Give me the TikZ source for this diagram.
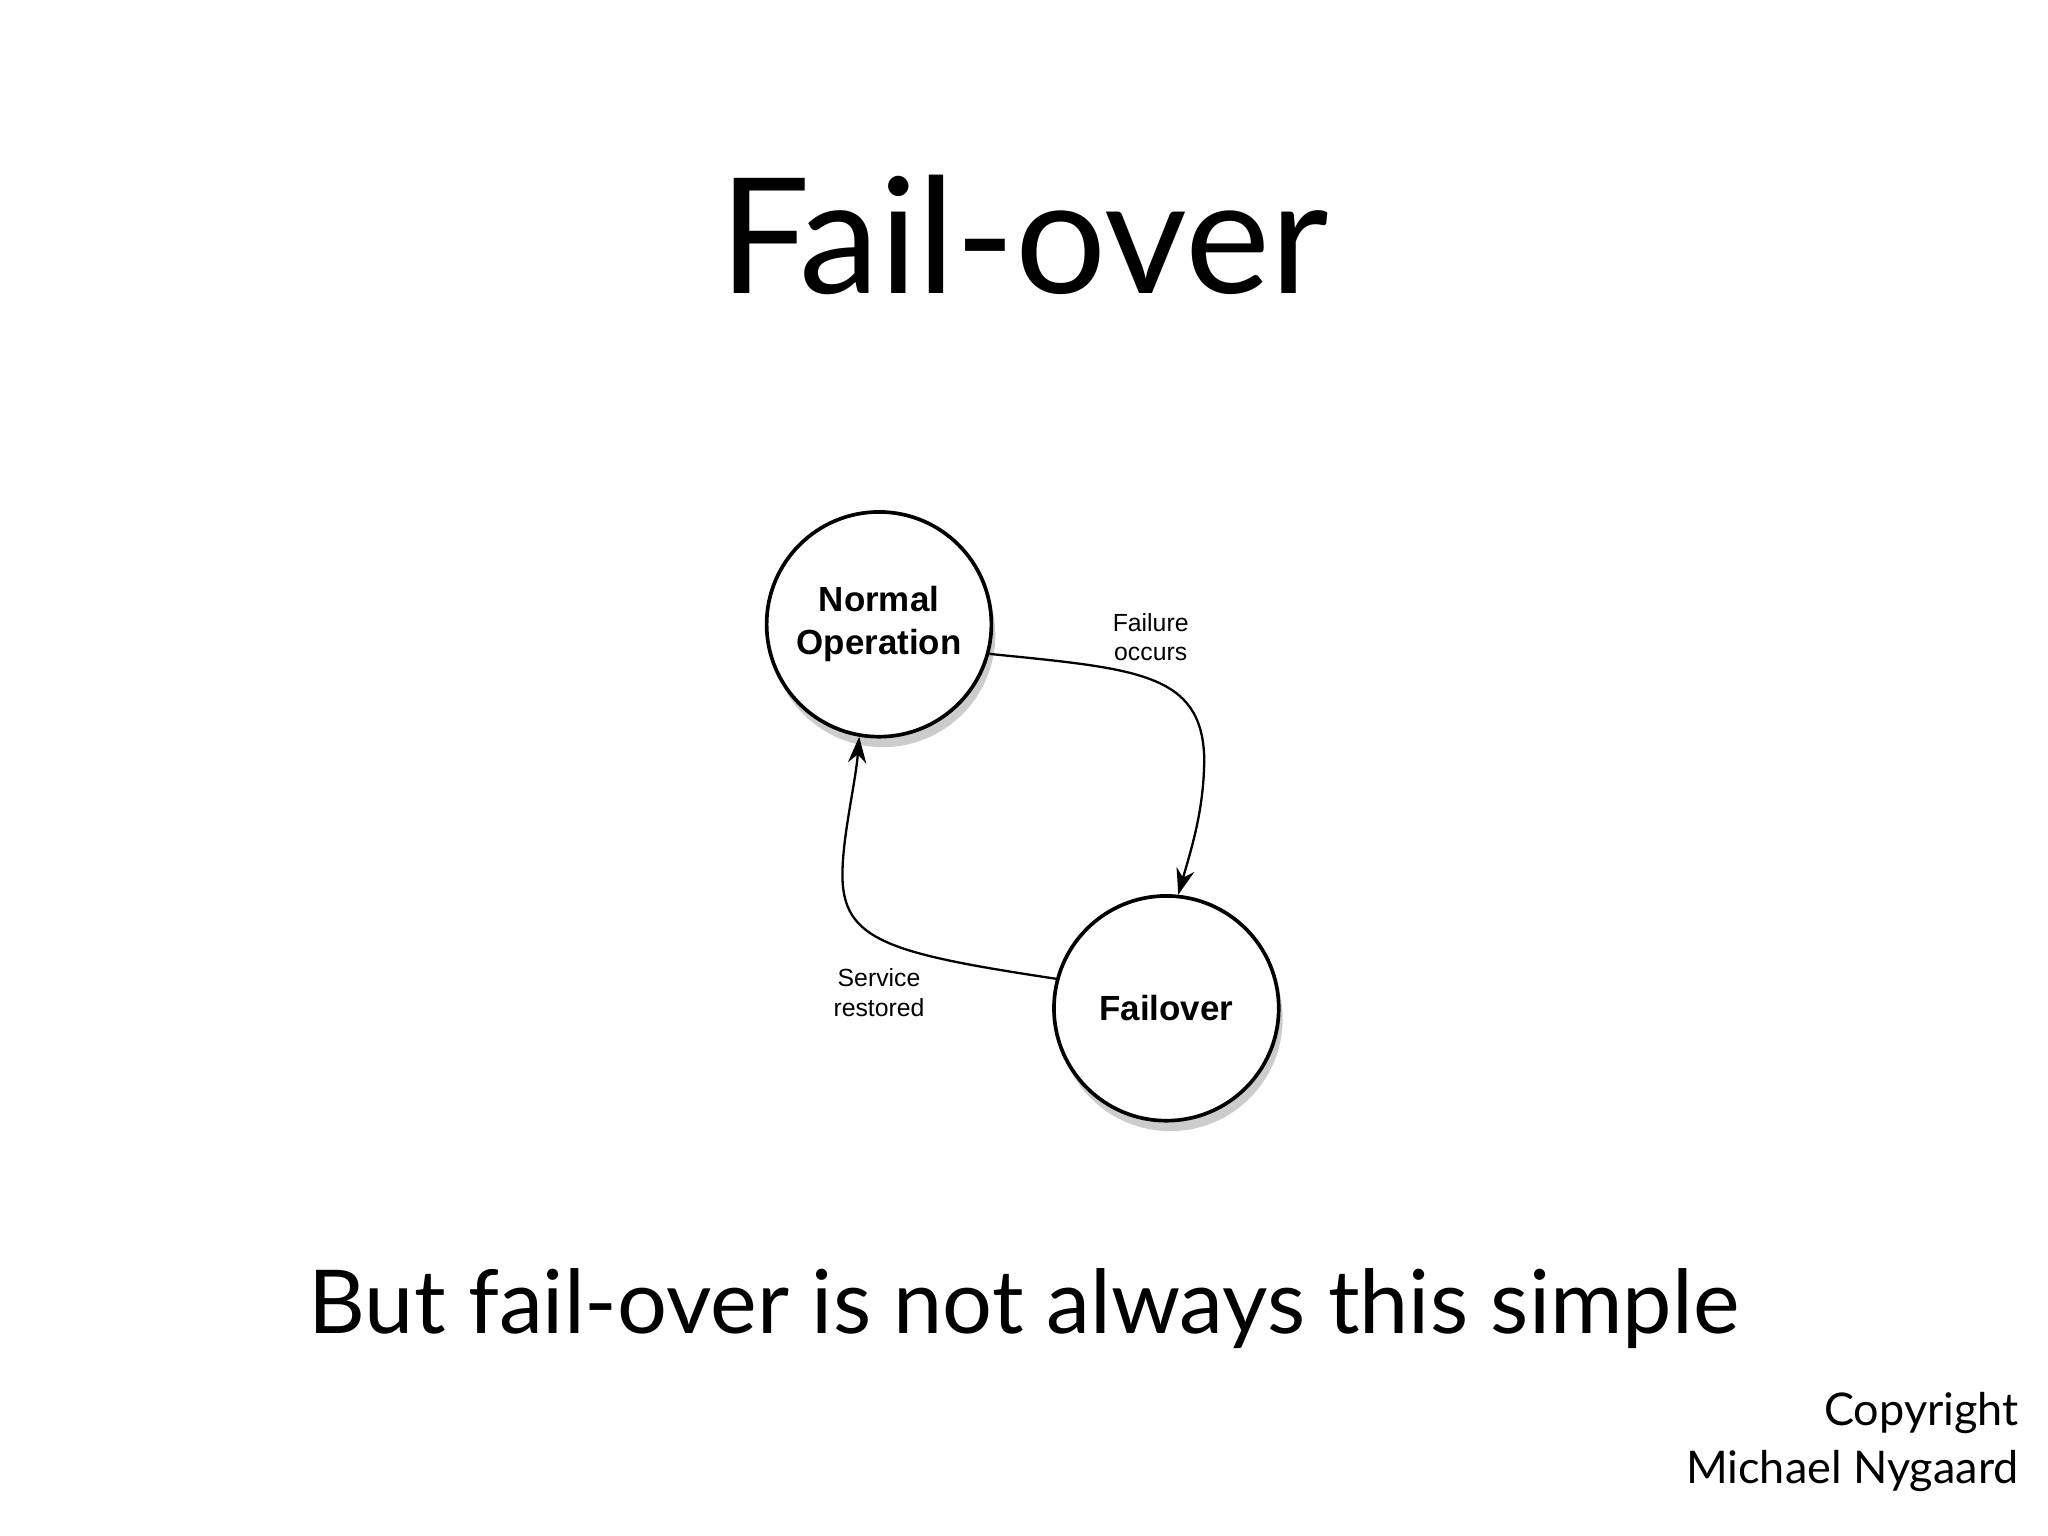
\documentclass[tikz,border=0pt]{standalone}
\usepackage{fontspec}
\setmainfont{Lato}
\newfontfamily\helv{Liberation Sans}
\usetikzlibrary{shadows,arrows.meta}
\begin{document}
\begin{tikzpicture}[x=0.01cm,y=-0.01cm,
  state/.style={circle,draw,line width=0.8pt,fill=white,minimum size=1.72cm,inner sep=0pt,align=center,font=\helv\bfseries\fontsize{7.6}{9.4}\selectfont,drop shadow={shadow xshift=0.3mm,shadow yshift=-0.8mm,opacity=0.4}},
  lbl/.style={align=center,font=\helv\fontsize{5.4}{6.4}\selectfont},
  conn/.style={line width=0.5pt,-{Stealth[length=2mm,width=1.4mm]}}]
\useasboundingbox (0,0) rectangle (1568,1176);
\node[font=\fontsize{35}{38}\selectfont] (title) at (784,180) {Fail-over};
\node[state] (n) at (673,478) {Normal\\Operation};
\node[state] (f) at (893,772) {Failover};
\node[lbl] (l1) at (881,488) {Failure\\occurs};
\node[lbl] (l2) at (673,760) {Service\\restored};
\draw[conn] (n.-15) .. controls (870,512) and (920,515) .. (922,580) .. controls (922,620) and (912,650) .. (f.84);
\draw[conn] (f.165) .. controls (680,730) and (645,720) .. (645,670) .. controls (645,640) and (655,600) .. (n.-100);
\node[font=\fontsize{19.2}{22}\selectfont] (sub) at (784,1002) {But fail-over is not always this simple};
\node[anchor=east,align=right,font=\fontsize{9.8}{12.5}\selectfont] (copy) at (1558,1104) {Copyright\\Michael Nygaard};
\end{tikzpicture}
\end{document}
